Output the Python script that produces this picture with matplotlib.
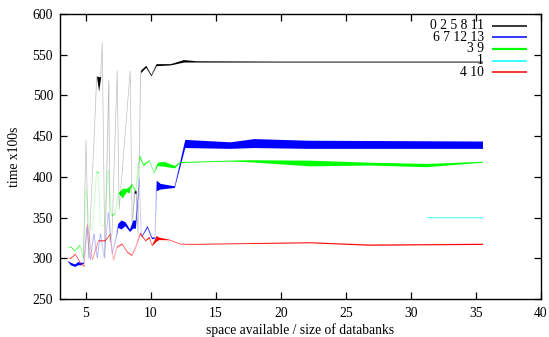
import numpy as np
import matplotlib
matplotlib.use("Agg")
import matplotlib.pyplot as plt

# Envelopes (lower / upper run time, x100 s) for each group of databanks
black_x  = [4.8, 5.0, 5.2, 5.6, 5.82, 5.97, 6.12, 6.25, 6.45, 6.75, 6.85, 7.0, 7.4, 7.55, 8.4, 8.55, 8.72, 8.85, 9.0, 9.2, 9.6, 10.0, 10.4, 11.5, 12.5, 13.5, 20.0, 35.5]
black_lo = [300, 445, 300, 440, 523, 505, 522, 565, 300, 517, 320, 330, 530, 360, 530, 340, 380, 380, 330, 528, 534.5, 524, 536.5, 537.5, 541, 541, 541, 541]
black_hi = [300, 445, 300, 440, 524, 523, 523, 565, 300, 520, 320, 330, 530, 360, 530, 340, 384, 383, 330, 531, 537, 525.5, 539, 539, 544, 542.5, 542, 542]

blue_x  = [3.6, 3.8, 4.15, 4.35, 4.55, 4.8, 5.05, 5.3, 5.6, 5.85, 6.1, 6.4, 6.7, 7.0, 7.3, 7.45, 7.7, 8.0, 8.35, 8.6, 8.8, 9.1, 9.25, 9.7, 10.05, 10.3, 10.4, 10.7, 11.8, 12.6, 16.1, 17.9, 22.0, 35.5]
blue_lo = [296, 292, 290, 292, 292, 294, 338, 298, 330, 300, 330, 300, 356, 305, 325, 338, 336, 340, 333, 337, 337, 400, 326, 338, 324, 325, 383, 385, 387, 436, 435, 436, 435, 435]
blue_hi = [297, 295, 293, 296, 295, 295, 339, 299, 331, 301, 331, 300, 357, 305, 326, 343, 347, 345, 336, 347, 347, 400, 327, 340, 326, 326, 396, 392, 389, 446, 443, 447, 445, 444]

green_x  = [3.6, 3.8, 4.1, 4.5, 4.8, 5.0, 5.25, 5.5, 5.8, 5.95, 6.1, 6.4, 6.7, 6.95, 7.2, 7.5, 7.8, 8.1, 8.3, 8.5, 8.8, 9.1, 9.4, 9.85, 10.2, 10.5, 11.0, 11.8, 12.2, 16.0, 17.6, 22.2, 26.8, 31.2, 35.5]
green_lo = [313, 314, 309, 316, 300, 385, 340, 335, 406, 405, 340, 340, 409, 352, 355, 380, 374, 382, 380, 391, 382, 424, 414, 420, 405, 414, 413, 411, 417.6, 419.4, 418.5, 413.5, 414.5, 412.5, 418]
green_hi = [313, 315, 310, 317, 301, 386, 340, 335, 407, 406, 340, 340, 410, 353, 356, 381, 386, 386, 388, 392, 384, 427, 416, 421, 406, 418, 419, 414, 418.6, 420.4, 421, 420.5, 418, 416.5, 419]

cyan_x  = [31.2, 35.5]
cyan_lo = [349.6, 349.6]
cyan_hi = [350.4, 350.4]

red_x  = [3.6, 3.8, 4.15, 4.55, 4.85, 5.1, 5.45, 5.95, 6.45, 6.85, 7.1, 7.35, 7.75, 8.15, 8.5, 8.8, 9.15, 9.55, 9.85, 10.05, 10.4, 10.6, 11.4, 12.2, 13.0, 22.2, 26.8, 35.5]
red_lo = [300, 300, 305, 294, 290, 342, 298, 321.5, 321.5, 329.5, 297.5, 313.5, 317.5, 307.5, 303.5, 313.5, 330, 321.5, 325, 315.5, 321, 323, 322.7, 317.7, 317.2, 319, 316, 317]
red_hi = [300, 301, 306, 295, 291, 343, 299, 322.5, 322.5, 330.5, 298.5, 314.5, 318.5, 308.5, 304.5, 314.5, 332, 322.5, 327, 316.5, 328, 326, 323.3, 318.3, 318, 320.2, 317.4, 318.4]

legend_labels = ["0 2 5 8 11", "6 7 12 13", "3 9", "1", "4 10"]
colors = ["#000000", "#0000ff", "#00ff00", "#00ffff", "#ff0000"]

series = [
    (black_x, black_lo, black_hi),
    (blue_x, blue_lo, blue_hi),
    (green_x, green_lo, green_hi),
    (cyan_x, cyan_lo, cyan_hi),
    (red_x, red_lo, red_hi),
]

plt.rcParams["font.family"] = ["Liberation Serif", "DejaVu Serif"]
plt.rcParams["font.size"] = 9.8

fig = plt.figure(figsize=(5.49, 3.37), dpi=100)
ax = fig.add_axes([60 / 549, 1 - 299 / 337, 481 / 549, 285 / 337])

for (x, lo, hi), c in zip(series, colors):
    x = np.asarray(x, float)
    lo = np.asarray(lo, float)
    hi = np.asarray(hi, float)
    # faint trace of the centre, solid where the envelope opens up
    ax.plot(x, (lo + hi) / 2, color=c, lw=0.5, alpha=0.25, solid_joinstyle="miter")
    ax.fill_between(x, lo, hi, color=c, lw=0, alpha=0.6 if c == "#00ffff" else 1.0)

ax.set_xlim(3, 40)
ax.set_ylim(250, 600)
ax.set_xticks(np.arange(5, 41, 5))
ax.set_yticks(np.arange(250, 601, 50))
ax.tick_params(direction="in", top=True, right=True, length=5, width=0.9,
               labelsize=9.8)
ax.tick_params(axis="x", pad=6)
ax.tick_params(axis="y", pad=5)
for s in ax.spines.values():
    s.set_linewidth(1.0)

ax.set_xlabel("space available / size of databanks", fontsize=9.8, labelpad=2)
ax.set_ylabel("time x100s", fontsize=9.8, labelpad=8)

# key in the upper right corner: right-aligned labels followed by line samples
tr = ax.transAxes
x_text = (484 - 60) / 481
x0, x1 = (492 - 60) / 481, (527 - 60) / 481
for i, (lab, c) in enumerate(zip(legend_labels, colors)):
    y = 1 - (25.7 + 11.6 * i - 14) / 285
    ax.text(x_text, y, lab, transform=tr, ha="right", va="center", fontsize=9.8)
    ax.plot([x0, x1], [y, y], transform=tr, color=c, lw=1.1 if c != "#00ff00" else 1.6,
            solid_capstyle="butt")

fig.savefig("out.png", dpi=100)
